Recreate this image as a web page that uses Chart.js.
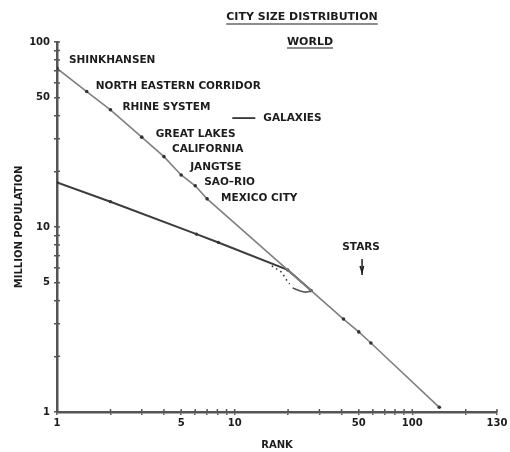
<!DOCTYPE html>
<html><head><meta charset="utf-8">
<script src="https://cdn.jsdelivr.net/npm/chart.js@4/dist/chart.umd.min.js"></script>
<style>html,body{margin:0;padding:0;background:#fff;} #wrap{width:510px;height:452px;position:relative;}</style>
</head><body><div id="wrap"><canvas id="c" width="510" height="452" style="width:510px;height:452px;"></canvas></div>
<script>
// ---------- data ----------
const titleText = 'CITY SIZE DISTRIBUTION';
const subtitleText = 'WORLD';
const xAxisTitle = 'RANK';
const yAxisTitle = 'MILLION POPULATION';

const cityNames = ['SHINKHANSEN', 'NORTH EASTERN CORRIDOR', 'RHINE SYSTEM', 'GREAT LAKES', 'CALIFORNIA', 'JANGTSE', 'SAO\u2013RIO', 'MEXICO CITY'];
const cityRanks = [1, 1.47, 2, 3, 4, 5, 6, 7];
const cityPops  = [72, 54, 43, 30.6, 24, 19.1, 16.7, 14.2];

const upperTailRanks = [41, 50, 58.5, 142];
const upperTailPops  = [3.18, 2.71, 2.36, 1.06];

const lowerRanks = [1, 2, 6.1, 8.1, 19.9, 27];
const lowerPops  = [17.4, 13.7, 9.15, 8.25, 5.86, 4.53];

const dottedRanks = [16.2, 18.4, 19.6, 20.4];
const dottedPops  = [6.16, 5.7, 5.17, 4.92];

const hookRanks = [21.2, 24.7, 27.0];
const hookPops  = [4.68, 4.45, 4.5];

const noteTexts = ['GALAXIES', 'STARS'];
const noteRanks = [14.5, 51.5];
const notePops  = [38.8, 7.8];

const xTickValues = [1, 2, 3, 4, 5, 6, 7, 8, 9, 10, 20, 30, 40, 50, 60, 70, 80, 90, 100, 200, 300];
const xLabelValues = [1, 5, 10, 50, 100, 300];
const xLabelTexts  = ['1', '5', '10', '50', '100', '130'];
const yTickValues = [1, 2, 3, 4, 5, 6, 7, 8, 9, 10, 20, 30, 40, 50, 60, 70, 80, 90, 100];
const yLabelValues = [1, 5, 10, 50, 100];
const yLabelTexts  = ['1', '5', '10', '50', '100'];

// ---------- styles ----------
const FONT = '"DejaVu Sans", "Liberation Sans", sans-serif';
const INK = '#1c1c1c';
const labelOffsets = [[12, -8], [9, -5], [12, -3], [14, -3], [8, -7], [9, -8], [9, -4], [14, -1]];

function toXY(xs, ys) { return xs.map((x, i) => ({x: x, y: ys[i]})); }
const upperData = toXY(cityRanks, cityPops).concat(toXY(upperTailRanks, upperTailPops));

const annotations = {
  id: 'annotations',
  afterDatasetsDraw(chart) {
    const ctx = chart.ctx, xs = chart.scales.x, ys = chart.scales.y;
    ctx.save();
    ctx.fillStyle = INK; ctx.strokeStyle = INK;
    ctx.font = 'bold 10.5px ' + FONT;
    ctx.textBaseline = 'middle'; ctx.textAlign = 'left';
    cityNames.forEach((name, i) => {
      const px = xs.getPixelForValue(cityRanks[i]) + labelOffsets[i][0];
      const py = ys.getPixelForValue(cityPops[i]) + labelOffsets[i][1];
      ctx.fillText(name, px, py);
    });
    // GALAXIES with leading dash
    const gx = xs.getPixelForValue(noteRanks[0]), gy = ys.getPixelForValue(notePops[0]);
    ctx.lineWidth = 1.6;
    ctx.beginPath(); ctx.moveTo(gx - 31, gy); ctx.lineTo(gx - 8, gy); ctx.stroke();
    ctx.fillText(noteTexts[0], gx, gy);
    // STARS with arrow
    const sx = xs.getPixelForValue(noteRanks[1]), sy = ys.getPixelForValue(notePops[1]);
    ctx.textAlign = 'center';
    ctx.fillText(noteTexts[1], sx, sy);
    ctx.lineWidth = 1.5;
    ctx.beginPath(); ctx.moveTo(sx + 1, sy + 12); ctx.lineTo(sx + 1, sy + 28); ctx.stroke();
    ctx.beginPath(); ctx.moveTo(sx - 1, sy + 19); ctx.lineTo(sx + 1, sy + 25); ctx.lineTo(sx + 2.5, sy + 19); ctx.stroke();
    // title + subtitle, underlined
    ctx.font = 'bold 11px ' + FONT;
    ctx.textAlign = 'center';
    const heads = [[titleText, 302, 17, 24], [subtitleText, 310, 42, 48]];
    heads.forEach(h => {
      ctx.fillText(h[0], h[1], h[2]);
      const w = ctx.measureText(h[0]).width;
      ctx.lineWidth = 1.2;
      ctx.beginPath(); ctx.moveTo(h[1] - w / 2, h[3]); ctx.lineTo(h[1] + w / 2, h[3]); ctx.stroke();
    });
    // inner halves of tick marks
    ctx.strokeStyle = '#555'; ctx.lineWidth = 1.5;
    const a = chart.chartArea;
    xs.ticks.forEach(t => {
      const p = xs.getPixelForValue(t.value);
      ctx.beginPath(); ctx.moveTo(p, a.bottom); ctx.lineTo(p, a.bottom - 3); ctx.stroke();
    });
    ys.ticks.forEach(t => {
      const p = ys.getPixelForValue(t.value);
      ctx.beginPath(); ctx.moveTo(a.left, p); ctx.lineTo(a.left + 3, p); ctx.stroke();
    });
    ctx.restore();
  }
};

function setTicks(values) {
  return function (scale) { scale.ticks = values.map(v => ({value: v})); };
}

new Chart(document.getElementById('c'), {
  type: 'line',
  data: {
    datasets: [
      { label: 'Cities', data: upperData, borderColor: '#808080', borderWidth: 1.6,
        pointRadius: 1.8, pointBackgroundColor: '#333', pointBorderWidth: 0 },
      { label: 'World', data: toXY(lowerRanks, lowerPops), borderColor: '#3c3c3c', borderWidth: 2,
        pointRadius: 1.6, pointBackgroundColor: '#333', pointBorderWidth: 0 },
      { label: 'Dotted', data: toXY(dottedRanks, dottedPops), borderColor: '#333', borderWidth: 1.6,
        borderDash: [1.5, 3.5], pointRadius: 0 },
      { label: 'Hook', data: toXY(hookRanks, hookPops), borderColor: '#555', borderWidth: 1.6,
        tension: 0.3, pointRadius: 0 }
    ]
  },
  options: {
    responsive: false,
    animation: false,
    devicePixelRatio: 1,
    layout: { padding: { top: 42, right: 13, left: 0, bottom: 0 } },
    plugins: { legend: { display: false }, tooltip: { enabled: false }, title: { display: false } },
    scales: {
      x: {
        type: 'logarithmic', min: 1, max: 300,
        afterBuildTicks: setTicks(xTickValues),
        afterFit(s) { s.height = 40; },
        border: { display: true, color: '#555', width: 2.5 },
        grid: { display: true, drawOnChartArea: false, drawTicks: true, tickLength: 3, color: '#555', lineWidth: 1.5 },
        ticks: {
          autoSkip: false, maxRotation: 0, minRotation: 0, padding: 2, color: INK,
          font: { family: FONT, size: 10, weight: 'bold' },
          callback: v => { const i = xLabelValues.indexOf(v); return i >= 0 ? xLabelTexts[i] : ''; }
        },
        title: { display: true, text: xAxisTitle, color: INK, padding: { top: 0, bottom: 1 },
                 font: { family: FONT, size: 10, weight: 'bold' } }
      },
      y: {
        type: 'logarithmic', min: 1, max: 100,
        afterBuildTicks: setTicks(yTickValues),
        afterFit(s) { s.width = 57; },
        border: { display: true, color: '#555', width: 2.5 },
        grid: { display: true, drawOnChartArea: false, drawTicks: true, tickLength: 3, color: '#555', lineWidth: 1.5 },
        ticks: {
          autoSkip: false, padding: 4, color: INK,
          font: { family: FONT, size: 10, weight: 'bold' },
          callback: v => { const i = yLabelValues.indexOf(v); return i >= 0 ? yLabelTexts[i] : ''; }
        },
        title: { display: true, text: yAxisTitle, color: INK, padding: { top: 13, bottom: 0 },
                 font: { family: FONT, size: 10, weight: 'bold' } }
      }
    }
  },
  plugins: [annotations]
});
</script>
</body></html>
